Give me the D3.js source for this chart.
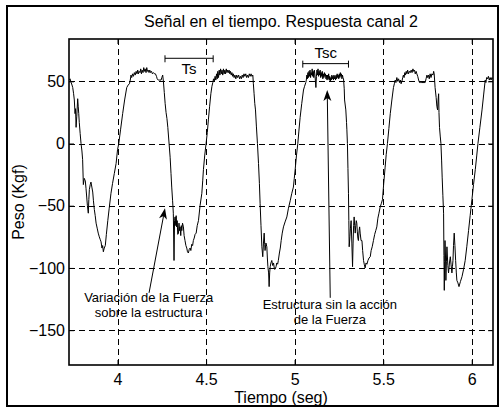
<!DOCTYPE html>
<html>
<head>
<meta charset="utf-8">
<script src="https://cdn.jsdelivr.net/npm/d3@7/dist/d3.min.js"></script>
<style>
  html, body { margin: 0; padding: 0; background: #fff; }
  svg { display: block; font-family: "Liberation Sans", Arial, sans-serif; }
</style>
</head>
<body>
<svg id="chart" width="500" height="408"></svg>
<script>
// Channel 2 load-cell response: time (s) and measured force (kgf)
const times = [
  3.726, 3.732, 3.738, 3.743, 3.747, 3.752, 3.756, 3.760, 3.763, 3.766, 3.770, 3.775, 3.778, 3.781, 3.784, 3.789,
  3.794, 3.799, 3.803, 3.807, 3.812, 3.818, 3.822, 3.826, 3.830, 3.835, 3.838, 3.841, 3.846, 3.850, 3.855, 3.860,
  3.864, 3.869, 3.874, 3.879, 3.885, 3.891, 3.897, 3.902, 3.907, 3.912, 3.916, 3.920, 3.925, 3.931, 3.937, 3.945,
  3.953, 3.963, 3.972, 3.982, 3.992, 4.000, 4.007, 4.017, 4.029, 4.040, 4.052, 4.060, 4.067, 4.072, 4.076,
  4.080, 4.085, 4.090, 4.095, 4.100, 4.105, 4.110, 4.114, 4.118, 4.122, 4.127, 4.131, 4.135, 4.139, 4.144, 4.148,
  4.152, 4.156, 4.161, 4.165, 4.169, 4.173, 4.178, 4.182, 4.187, 4.192, 4.197, 4.203, 4.209, 4.214, 4.220, 4.224,
  4.230, 4.238, 4.246, 4.250, 4.255, 4.259, 4.264, 4.269, 4.274, 4.279, 4.284, 4.290, 4.297, 4.302, 4.306, 4.311,
  4.315, 4.319, 4.322, 4.325, 4.329, 4.331, 4.334, 4.337, 4.340, 4.344, 4.347, 4.350, 4.353, 4.357, 4.360, 4.363,
  4.367, 4.372, 4.376, 4.381, 4.386, 4.391, 4.395, 4.400, 4.405, 4.410, 4.414, 4.419, 4.424, 4.428, 4.433, 4.438,
  4.444, 4.450, 4.457, 4.466, 4.476, 4.481, 4.485, 4.492, 4.500, 4.507, 4.513, 4.520, 4.527, 4.533, 4.538,
  4.542, 4.546, 4.551, 4.555, 4.559, 4.563, 4.566, 4.570, 4.574, 4.578, 4.582, 4.586, 4.590, 4.594, 4.598, 4.602,
  4.606, 4.610, 4.614, 4.618, 4.622, 4.626, 4.630, 4.634, 4.638, 4.642, 4.646, 4.650, 4.654, 4.658, 4.663, 4.668,
  4.673, 4.678, 4.684, 4.689, 4.694, 4.699, 4.704, 4.709, 4.714, 4.719, 4.724, 4.729, 4.734, 4.739, 4.744, 4.749,
  4.754, 4.759, 4.764, 4.767, 4.771, 4.775, 4.779, 4.784, 4.790, 4.796, 4.801, 4.805, 4.810, 4.815, 4.820, 4.824,
  4.828, 4.831, 4.833, 4.838, 4.843, 4.846, 4.849, 4.853, 4.856, 4.859, 4.862, 4.866, 4.871, 4.876, 4.881, 4.886,
  4.890, 4.895, 4.899, 4.904, 4.908, 4.914, 4.919, 4.924, 4.930, 4.937, 4.946, 4.956, 4.965, 4.975, 4.984, 4.993,
  4.998, 5.003, 5.010, 5.018, 5.024, 5.031, 5.040, 5.050, 5.056, 5.063,
  5.066, 5.069, 5.072, 5.075, 5.078, 5.081, 5.084, 5.087, 5.090, 5.093,
  5.096, 5.099, 5.102, 5.105, 5.108, 5.111, 5.114, 5.117, 5.120, 5.123,
  5.126, 5.129, 5.132, 5.135, 5.138, 5.141, 5.144, 5.147, 5.150, 5.153,
  5.156, 5.159, 5.162, 5.165, 5.168, 5.171, 5.174, 5.177, 5.180, 5.183,
  5.186, 5.189, 5.192, 5.195, 5.198, 5.201, 5.204, 5.207, 5.210, 5.213,
  5.216, 5.219, 5.222, 5.225, 5.228, 5.231, 5.234, 5.237, 5.240, 5.243,
  5.246, 5.249, 5.252, 5.255, 5.258, 5.261, 5.264, 5.267, 5.270, 5.273,
  5.276, 5.280, 5.282, 5.289, 5.293, 5.295, 5.298, 5.301, 5.304, 5.306, 5.308, 5.312, 5.315, 5.319, 5.323, 5.327,
  5.330, 5.333, 5.336, 5.339, 5.342, 5.345, 5.348, 5.351, 5.354, 5.357, 5.360, 5.364, 5.367, 5.370, 5.375, 5.380,
  5.384, 5.389, 5.393, 5.398, 5.403, 5.408, 5.414, 5.420, 5.427, 5.432, 5.438, 5.445, 5.452, 5.458, 5.464, 5.470,
  5.476, 5.483, 5.490, 5.496, 5.503, 5.511, 5.517, 5.524, 5.532, 5.540, 5.549, 5.558, 5.563, 5.568,
  5.572, 5.577, 5.582, 5.587, 5.592, 5.597, 5.601, 5.606, 5.610, 5.614, 5.618, 5.622, 5.626, 5.630, 5.634, 5.638,
  5.643, 5.648, 5.653, 5.658, 5.663, 5.668, 5.672, 5.677, 5.681, 5.686, 5.690, 5.695, 5.700, 5.705, 5.711, 5.718,
  5.725, 5.731, 5.737, 5.742, 5.747, 5.751, 5.756, 5.760, 5.765, 5.770, 5.775, 5.781, 5.785, 5.788, 5.793, 5.799,
  5.803, 5.807, 5.810, 5.813, 5.815, 5.818, 5.822, 5.826, 5.830, 5.833, 5.837, 5.841, 5.843, 5.845, 5.847, 5.849,
  5.852, 5.854, 5.857, 5.860, 5.865, 5.869, 5.874, 5.879, 5.883, 5.888, 5.891, 5.894, 5.897, 5.901, 5.905, 5.909,
  5.913, 5.916, 5.922, 5.928, 5.936, 5.945, 5.954, 5.963, 5.972, 5.982, 5.991, 6.001, 6.010, 6.020, 6.028, 6.035,
  6.046, 6.058, 6.067, 6.076, 6.080, 6.084, 6.089, 6.094, 6.099, 6.104, 6.109, 6.114, 6.120
];
const force = [
  51, 52, 49, 47, 45, 40, 35, 24, 28, 13, 22, 36, 30, 24, 17, 8,
  0, -6, -13, -33, -28, -30, -36, -43, -50, -56, -45, -37, -33, -31, -35, -39,
  -46, -53, -58, -64, -68, -72, -75, -77, -79, -84, -82, -87, -84, -82, -73, -62,
  -52, -40, -32, -24, -16, -5, 0, 11, 24, 35, 45, 47, 48, 51, 55,
  53, 56, 54, 57, 55, 58, 56, 59, 56, 58, 57, 60, 56, 59, 57, 61,
  58, 60, 57, 61, 58, 59, 57, 59, 57, 58, 56, 57, 56, 56, 54, 52,
  51, 51, 51, 53, 55, 50, 41, 32, 25, 20, 13, 2, -11, -24, -35, -46,
  -56, -94, -62, -59, -66, -58, -67, -62, -73, -72, -64, -70, -67, -74, -66, -70,
  -64, -67, -74, -78, -82, -84, -87, -88, -85, -84, -86, -81, -82, -78, -76, -73,
  -72, -66, -62, -50, -40, -30, -21, -10, 0, 9, 19, 30, 40, 46, 49,
  52, 50, 54, 51, 56, 52, 58, 53, 59, 55, 60, 56, 59, 55, 60, 56,
  59, 56, 60, 57, 59, 57, 59, 56, 58, 55, 57, 54, 56, 53, 55, 52,
  55, 53, 55, 52, 54, 52, 55, 53, 56, 54, 56, 53, 55, 53, 56, 54,
  56, 54, 55, 48, 40, 32, 27, 14, 0, -16, -32, -48, -66, -83, -91, -80,
  -72, -81, -86, -80, -83, -92, -99, -104, -115, -104, -99, -96, -94, -98, -96, -101,
  -101, -99, -96, -97, -94, -88, -84, -78, -72, -67, -63, -59, -52, -46, -40, -35,
  -28, -21, -10, 0, 10, 21, 32, 43, 46, 49,
  51, 55, 52, 57, 53, 58, 54, 59, 53, 57,
  55, 60, 54, 58, 53, 59, 56, 51, 45, 54,
  59, 55, 60, 54, 58, 55, 59, 53, 57, 54,
  58, 52, 56, 53, 57, 54, 56, 52, 55, 51,
  55, 52, 56, 51, 54, 50, 53, 51, 55, 52,
  54, 51, 55, 52, 54, 51, 55, 52, 56, 53,
  55, 52, 56, 53, 57, 54, 56, 52, 55, 53,
  52, 44, 35, 27, 17, 11, 0, -20, -40, -62, -83, -75, -68, -62, -80, -99,
  -80, -66, -59, -66, -72, -66, -62, -64, -71, -76, -78, -70, -67, -72, -78, -78,
  -86, -94, -97, -100, -96, -97, -94, -92, -91, -86, -83, -78, -73, -70, -67, -60,
  -56, -51, -48, -45, -32, -19, -9, 0, 12, 24, 35, 45, 48, 51,
  49, 53, 50, 52, 49, 51, 48, 50, 53, 55, 53, 57, 55, 58, 56, 59,
  56, 58, 57, 59, 57, 60, 58, 59, 56, 58, 56, 54, 51, 49, 49, 49,
  49, 49, 49, 52, 55, 53, 55, 52, 56, 53, 56, 55, 58, 56, 45, 37,
  30, 27, 35, 40, 25, 13, 6, 0, -14, -27, -42, -56, -90, -118, -95, -78,
  -92, -110, -95, -83, -98, -104, -96, -91, -97, -104, -99, -94, -82, -72, -82, -94,
  -104, -110, -112, -115, -111, -107, -101, -94, -83, -70, -58, -45, -33, -21, -10, 0,
  13, 27, 39, 51, 49, 53, 52, 54, 51, 53, 51, 53, 52
];

const xTicks = [4, 4.5, 5, 5.5, 6];
const yTicks = [50, 0, -50, -100, -150];
const xDomain = [3.726, 6.12];
const yDomain = [-178, 84];

const titleText = "Señal en el tiempo. Respuesta canal 2";
const xLabel = "Tiempo (seg)";
const yLabel = "Peso (Kgf)";

// Interval markers (time span, force level where the bar sits)
const intervals = [
  { name: "Ts",  t0: 4.268, t1: 4.540, level: 68.5, textAbove: false },
  { name: "Tsc", t0: 5.046, t1: 5.304, level: 64.2, textAbove: true }
];
// Callouts: arrow from text to the trace (time, force)
const callouts = [
  { lines: ["Variación de la Fuerza", "sobre la estructura"], tip: [4.268, -52], tail: [4.178, -120], at: [4.176, -127] },
  { lines: ["Estructura sin la acción", "de la Fuerza"], tip: [5.184, 43], tail: [5.201, -124], at: [5.199, -133] }
];

const svg = d3.select("#chart");
const plot = { left: 69, right: 493, top: 39, bottom: 365 };

const x = d3.scaleLinear().domain(xDomain).range([plot.left, plot.right]);
const y = d3.scaleLinear().domain(yDomain).range([plot.bottom, plot.top]);

// Figure frame
svg.append("rect")
  .attr("x", 7).attr("y", 6).attr("width", 491).attr("height", 400)
  .attr("fill", "none").attr("stroke", "#000").attr("stroke-width", 2);

svg.append("defs").append("clipPath").attr("id", "plotClip")
  .append("rect")
  .attr("x", plot.left).attr("y", plot.top)
  .attr("width", plot.right - plot.left).attr("height", plot.bottom - plot.top);

// Dashed grid
const grid = svg.append("g").attr("stroke", "#000").attr("stroke-width", 1)
  .attr("stroke-dasharray", "6,4").attr("shape-rendering", "crispEdges");
grid.selectAll(".gx").data(xTicks).join("line")
  .attr("x1", d => Math.round(x(d)) + 0.5).attr("x2", d => Math.round(x(d)) + 0.5)
  .attr("y1", plot.bottom).attr("y2", plot.top);
grid.selectAll(".gy").data(yTicks).join("line")
  .attr("y1", d => Math.round(y(d)) + 0.5).attr("y2", d => Math.round(y(d)) + 0.5)
  .attr("x1", plot.left).attr("x2", plot.right);

// Signal trace
const series = times.map((t, i) => [t, force[i]]);
svg.append("path")
  .datum(series)
  .attr("clip-path", "url(#plotClip)")
  .attr("fill", "none")
  .attr("stroke", "#000")
  .attr("stroke-width", 1)
  .attr("stroke-linejoin", "round")
  .attr("d", d3.line().x(d => x(d[0])).y(d => y(d[1])));

// Axes with inward ticks on all four sides
const tickLen = 5;
const fontSize = 16;
const axB = svg.append("g").attr("transform", `translate(0,${plot.bottom})`)
  .call(d3.axisBottom(x).tickValues(xTicks).tickSizeInner(-tickLen).tickSizeOuter(0).tickPadding(9)
    .tickFormat(d3.format("")));
const axT = svg.append("g").attr("transform", `translate(0,${plot.top})`)
  .call(d3.axisTop(x).tickValues(xTicks).tickSizeInner(-tickLen).tickSizeOuter(0).tickFormat(""));
const axL = svg.append("g").attr("transform", `translate(${plot.left},0)`)
  .call(d3.axisLeft(y).tickValues(yTicks).tickSizeInner(-tickLen).tickSizeOuter(0).tickPadding(4)
    .tickFormat(d3.format("")));
const axR = svg.append("g").attr("transform", `translate(${plot.right},0)`)
  .call(d3.axisRight(y).tickValues(yTicks).tickSizeInner(-tickLen).tickSizeOuter(0).tickFormat(""));

[axB, axT, axL, axR].forEach(g => {
  g.select(".domain").remove();
  g.selectAll("line").attr("stroke", "#000").attr("stroke-width", 1);
  g.selectAll("text").attr("fill", "#000").attr("font-size", fontSize)
    .attr("font-family", "'Liberation Sans', Arial, sans-serif");
});

// Axes box
svg.append("rect")
  .attr("x", plot.left).attr("y", plot.top)
  .attr("width", plot.right - plot.left).attr("height", plot.bottom - plot.top)
  .attr("fill", "none").attr("stroke", "#000").attr("stroke-width", 1.6);

// Title and axis labels
svg.append("text").attr("x", (plot.left + plot.right) / 2).attr("y", 27)
  .attr("text-anchor", "middle").attr("font-size", fontSize).text(titleText);
svg.append("text").attr("x", (plot.left + plot.right) / 2).attr("y", 403)
  .attr("text-anchor", "middle").attr("font-size", fontSize).text(xLabel);
svg.append("text")
  .attr("transform", `translate(24,${(plot.top + plot.bottom) / 2}) rotate(-90)`)
  .attr("text-anchor", "middle").attr("font-size", fontSize).text(yLabel);

// Interval bars
const bars = svg.append("g").attr("stroke", "#000").attr("stroke-width", 1);
intervals.forEach(iv => {
  const x0 = x(iv.t0), x1 = x(iv.t1), yy = y(iv.level);
  bars.append("line").attr("x1", x0).attr("x2", x1).attr("y1", yy).attr("y2", yy);
  [x0, x1].forEach(xx => bars.append("line").attr("x1", xx).attr("x2", xx)
    .attr("y1", yy - 3).attr("y2", yy + 4));
  svg.append("text")
    .attr("x", (x0 + x1) / 2)
    .attr("y", iv.textAbove ? yy - 6 : yy + 16)
    .attr("text-anchor", "middle").attr("font-size", 15).text(iv.name);
});

// Callout arrows and notes
callouts.forEach(c => {
  const tx = x(c.tip[0]), ty = y(c.tip[1]);
  const sx = x(c.tail[0]), sy = y(c.tail[1]);
  const ang = Math.atan2(ty - sy, tx - sx);
  const len = 11, half = 4, notch = 3;
  const bx = tx - len * Math.cos(ang), by = ty - len * Math.sin(ang);
  const nx = tx - (len - notch) * Math.cos(ang), ny = ty - (len - notch) * Math.sin(ang);
  const px = -Math.sin(ang), py = Math.cos(ang);
  svg.append("line").attr("x1", sx).attr("y1", sy).attr("x2", nx).attr("y2", ny)
    .attr("stroke", "#000").attr("stroke-width", 1);
  svg.append("path")
    .attr("d", `M${tx},${ty}L${bx + half * px},${by + half * py}L${nx},${ny}L${bx - half * px},${by - half * py}Z`)
    .attr("fill", "#000");
  const t = svg.append("text").attr("text-anchor", "middle").attr("font-size", 13);
  c.lines.forEach((ln, i) => t.append("tspan")
    .attr("x", x(c.at[0])).attr("y", y(c.at[1]) + i * 15).text(ln));
});
</script>
</body>
</html>
